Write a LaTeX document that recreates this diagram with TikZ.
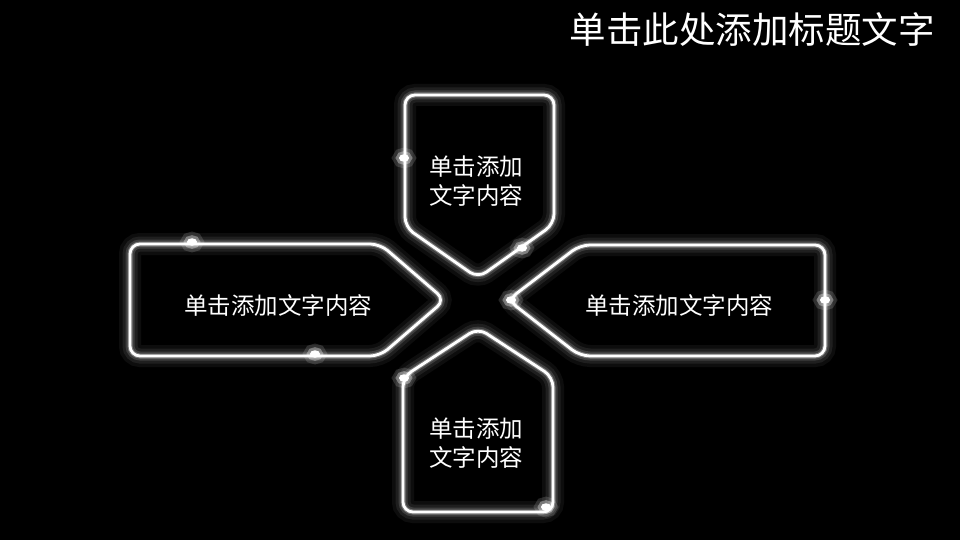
\documentclass[tikz,border=0pt]{standalone}
\usepackage{fontspec}
\newfontfamily\cjk{Noto Sans CJK SC}
\begin{document}
\begin{tikzpicture}[x=1pt,y=-1pt,
    glow/.style={draw=white,line width=2.8pt,rounded corners=10pt,line join=round,
      preaction={draw=white,line width=22pt,opacity=0.05},
      preaction={draw=white,line width=15pt,opacity=0.08},
      preaction={draw=white,line width=9pt,opacity=0.14},
      preaction={draw=white,line width=5pt,opacity=0.3}},
    spark/.style={fill=white,draw=white,line width=1pt,
      preaction={draw=white,line width=14pt,opacity=0.15},
      preaction={draw=white,line width=7pt,opacity=0.35}},
    txt/.style={text=white,font=\cjk\fontsize{23.5}{29.5}\selectfont,align=center}]
  \fill[black] (0,0) rectangle (960,540);
  % title
  \node[text=white,font=\cjk\fontsize{36.5}{40}\selectfont] (title) at (752,30) {单击此处添加标题文字};
  % four arrows
  \draw[glow] (405,160) -- (405,95) -- (554,95) -- (554,224) -- (478,278) -- (405,227) -- cycle;
  \draw[glow] (130,300) -- (130,244) -- (380,244) -- (445,300) -- (380,356) -- (130,356) -- cycle;
  \draw[glow] (825,300) -- (825,245) -- (580,245) -- (508,300) -- (580,356) -- (825,356) -- cycle;
  \draw[glow] (403,440) -- (403,512) -- (553,512) -- (553,377) -- (478,328) -- (403,377) -- cycle;
  % sparks
  \foreach \px/\py in {404/158,522/248,192/242,315/354,511/300,825/300,404/378,546/507}
    \draw[spark] (\px,\py) ellipse[x radius=4.5pt,y radius=3.2pt];
  % texts
  \node[txt] (up) at (476,181) {单击添加\\文字内容};
  \node[txt] (left) at (278,306) {单击添加文字内容};
  \node[txt] (right) at (679,306) {单击添加文字内容};
  \node[txt] (down) at (476,443) {单击添加\\文字内容};
\end{tikzpicture}
\end{document}
